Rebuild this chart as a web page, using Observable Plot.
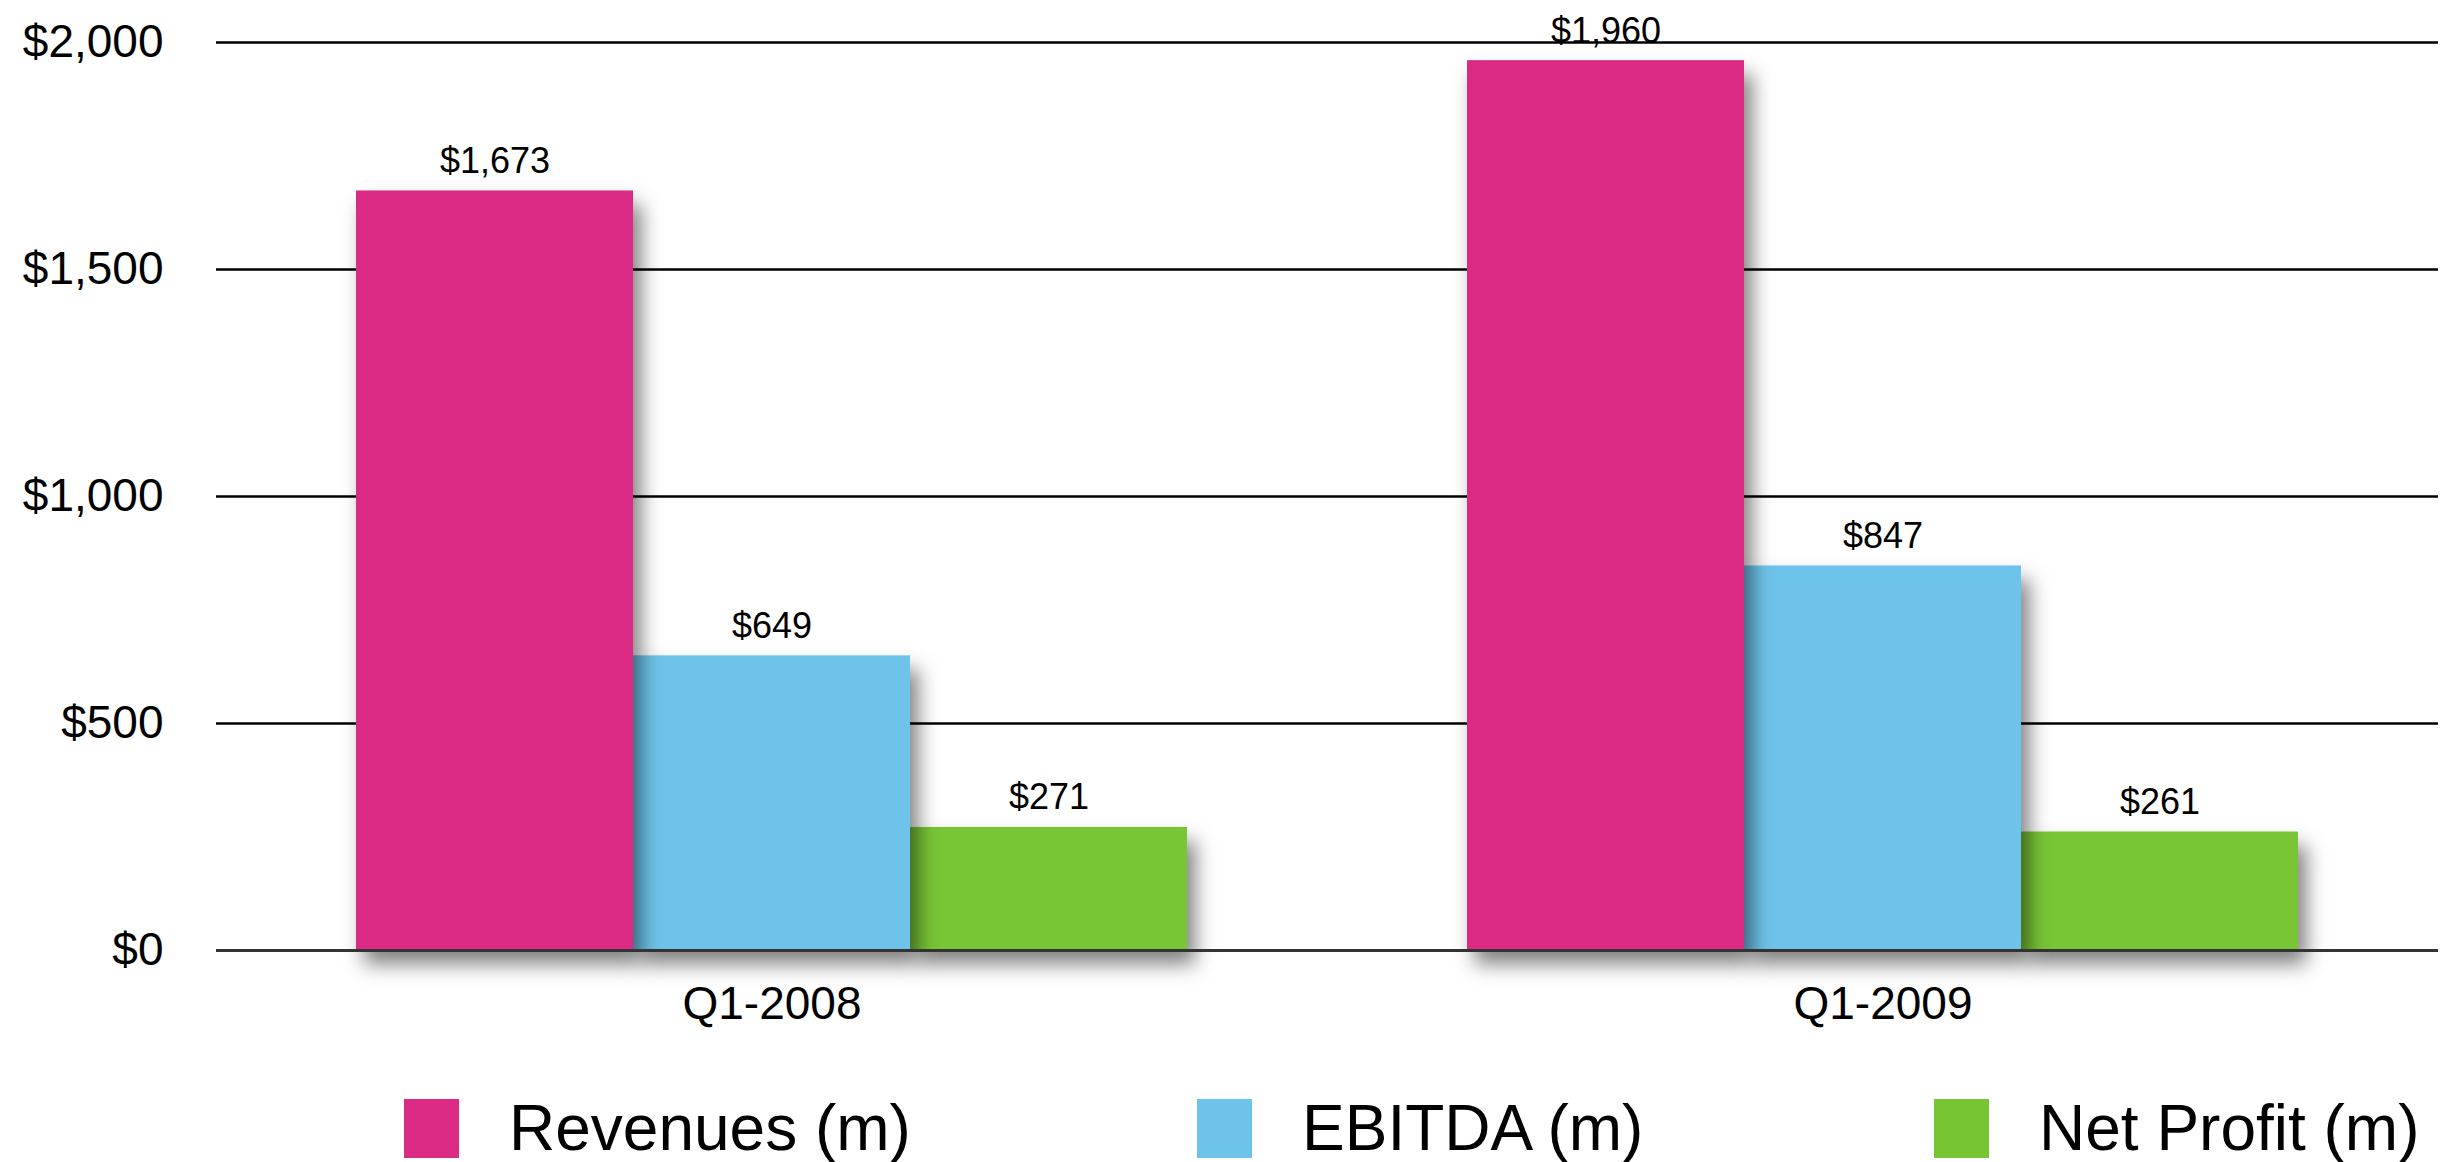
<!DOCTYPE html>
<html><head><meta charset="utf-8">
<script src="https://cdn.jsdelivr.net/npm/d3@7"></script>
<script src="https://cdn.jsdelivr.net/npm/@observablehq/plot@0.6"></script>
<style>
body{margin:0;background:#fff;font-family:"Liberation Sans",Arial,sans-serif;width:2454px;height:1162px;overflow:hidden}
#legend{display:flex;margin-top:53px;padding-left:404px}
.item{display:flex;align-items:center;font-size:64px;line-height:71px;color:#000}
.item:nth-child(1){width:793px}
.item:nth-child(2){width:737px}
.sw{width:55px;height:59px;margin-right:50px}
</style></head><body><div id="chart"></div><div id="legend"></div>
<script>
const quarters = ["Q1-2008", "Q1-2009"];
const seriesNames = ["Revenues (m)", "EBITDA (m)", "Net Profit (m)"];
const revenues = [1673, 1960];
const ebitda = [649, 847];
const netProfit = [271, 261];
const seriesColors = ["#DB2A84", "#6EC3EA", "#78C534"];
const yTicks = [0, 500, 1000, 1500, 2000];

const seriesValues = [revenues, ebitda, netProfit];
const data = quarters.flatMap((q, i) => seriesNames.map((s, j) => ({quarter: q, series: s, value: seriesValues[j][i]})));
const fmt = d => "$" + d3.format(",")(d);

const chart = Plot.plot({
  width: 2454, height: 1040,
  marginLeft: 216, marginRight: 16, marginTop: 42, marginBottom: 90,
  style: {fontFamily: "'Liberation Sans', Arial, sans-serif", fontSize: "46px", color: "#000", background: "#fff", overflow: "visible"},
  fx: {domain: quarters, padding: 0, label: null, tickSize: 0, tickPadding: 36, axis: "bottom"},
  x: {domain: seriesNames, paddingInner: 0, paddingOuter: 0.5, axis: null},
  y: {domain: [0, 2000], ticks: yTicks, tickFormat: fmt, tickSize: 0, tickPadding: 53, label: null},
  color: {domain: seriesNames, range: seriesColors},
  marks: [
    Plot.ruleY(yTicks.slice(1), {stroke: "#000", strokeWidth: 2.5}),
    Plot.barY(data, {fx: "quarter", x: "series", y: "value", fill: "series",
      sort: (a, b) => seriesNames.indexOf(b.series) - seriesNames.indexOf(a.series)}),
    Plot.text(data, {fx: "quarter", x: "series", y: "value", text: d => fmt(d.value), lineAnchor: "bottom", dy: -18, fontSize: 36, fill: "#000"}),
    Plot.ruleY([0], {stroke: "#333", strokeWidth: 3})
  ]
});
document.getElementById("chart").appendChild(chart);

const svg = d3.select(chart.tagName.toLowerCase() === "svg" ? chart : chart.querySelector("svg"));
svg.insert("defs", ":first-child").html('<filter id="shadow" x="-30%" y="-30%" width="170%" height="170%"><feDropShadow dx="8" dy="14" stdDeviation="10" flood-color="#000" flood-opacity="0.5"/></filter>');
svg.selectAll('g[aria-label="bar"] rect').attr("filter", "url(#shadow)");

const legend = d3.select("#legend");
seriesNames.forEach((s, i) => {
  const item = legend.append("div").attr("class", "item");
  item.append("div").attr("class", "sw").style("background", seriesColors[i]);
  item.append("span").text(s);
});
</script>
</body></html>
